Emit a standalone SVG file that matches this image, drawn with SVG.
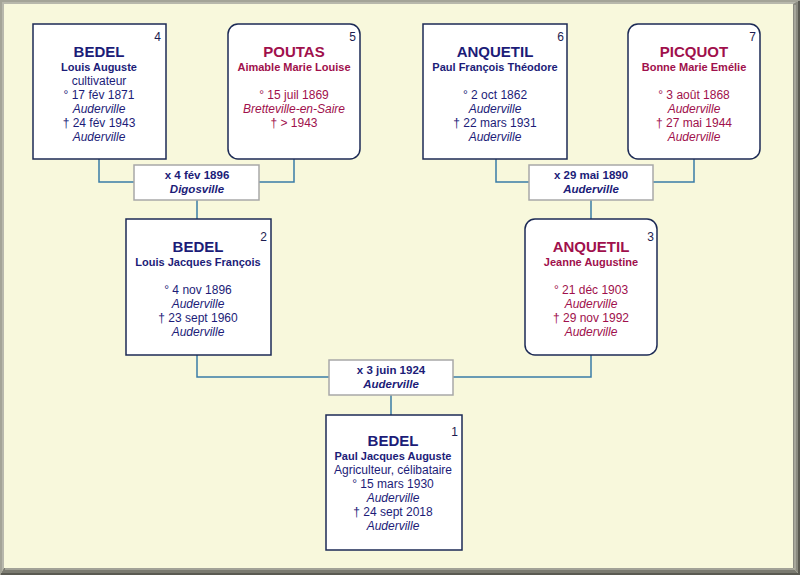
<svg xmlns="http://www.w3.org/2000/svg" width="800" height="575" viewBox="0 0 800 575">
<style>
text{font-family:"Liberation Sans",Arial,sans-serif;text-anchor:middle}
.box{fill:#ffffff;stroke:#1c2a55;stroke-width:1.5}
.mbox{fill:#ffffff;stroke:#a8a8a8;stroke-width:1.5}
.m{fill:#1c1c78}
.f{fill:#a0104c}
.nm{font-size:15px;font-weight:bold}
.gn{font-size:11px;font-weight:bold}
.t{font-size:12px}
.i{font-size:12px;font-style:italic}
.no{font-size:12px;fill:#1c1c50;text-anchor:end}
.mt{font-size:11.5px;font-weight:bold;fill:#1c1c78}
.mi{font-size:11.5px;font-weight:bold;font-style:italic;fill:#1c1c78}
.c{fill:none;stroke:#3a7ca6;stroke-width:1.5}
</style>
<rect x="0" y="0" width="800" height="575" fill="#f8f8dc"/>
<g id="frame">
<polygon points="0,0 800,0 796,4 4,4 4,568 0,575" fill="#b8b8ac"/>
<polygon points="800,0 800,575 793,568 793,4" fill="#8a8a80"/>
<polygon points="0,575 800,575 793,568 4,568" fill="#7a7a70"/>
<polyline points="1,574 1,1 799,1" fill="none" stroke="#a4a498" stroke-width="2"/>
<polyline points="795,5 795,569 5,569" fill="none" stroke="#b0b0a4" stroke-width="1.5"/>
<polyline points="799,1 799,574 1,574" fill="none" stroke="#5a5a52" stroke-width="2"/>
</g>
<g id="connectors">
<polyline class="c" points="99,159 99,182 134,182"/>
<polyline class="c" points="294,159 294,182 259,182"/>
<line class="c" x1="197" y1="200" x2="197" y2="219"/>
<polyline class="c" points="496,159 496,182 529,182"/>
<polyline class="c" points="694,159 694,182 653,182"/>
<line class="c" x1="591" y1="200" x2="591" y2="219"/>
<polyline class="c" points="197,355 197,377 329,377"/>
<polyline class="c" points="591,355 591,377 453,377"/>
<line class="c" x1="391" y1="395" x2="391" y2="415"/>
</g>
<g id="node4">
<rect class="box" x="33" y="24" width="133" height="135"/>
<text class="no" x="161" y="41">4</text>
<text class="m nm" x="99" y="57">BEDEL</text>
<text class="m gn" x="99" y="71">Louis Auguste</text>
<text class="m t" x="99" y="85">cultivateur</text>
<text class="m t" x="99" y="99">° 17 fév 1871</text>
<text class="m i" x="99" y="113">Auderville</text>
<text class="m t" x="99" y="127">† 24 fév 1943</text>
<text class="m i" x="99" y="141">Auderville</text>
</g>
<g id="node5">
<rect class="box" x="228" y="24" width="132" height="135" rx="10"/>
<text class="no" x="356" y="41">5</text>
<text class="f nm" x="294" y="57">POUTAS</text>
<text class="f gn" x="294" y="71">Aimable Marie Louise</text>
<text class="f t" x="294" y="99">° 15 juil 1869</text>
<text class="f i" x="294" y="113">Bretteville-en-Saire</text>
<text class="f t" x="294" y="127">† &gt; 1943</text>
</g>
<g id="node6">
<rect class="box" x="423" y="24" width="144" height="135"/>
<text class="no" x="564" y="41">6</text>
<text class="m nm" x="495" y="57">ANQUETIL</text>
<text class="m gn" x="495" y="71">Paul François Théodore</text>
<text class="m t" x="495" y="99">° 2 oct 1862</text>
<text class="m i" x="495" y="113">Auderville</text>
<text class="m t" x="495" y="127">† 22 mars 1931</text>
<text class="m i" x="495" y="141">Auderville</text>
</g>
<g id="node7">
<rect class="box" x="628" y="24" width="132" height="135" rx="10"/>
<text class="no" x="756" y="41">7</text>
<text class="f nm" x="694" y="57">PICQUOT</text>
<text class="f gn" x="694" y="71">Bonne Marie Emélie</text>
<text class="f t" x="694" y="99">° 3 août 1868</text>
<text class="f i" x="694" y="113">Auderville</text>
<text class="f t" x="694" y="127">† 27 mai 1944</text>
<text class="f i" x="694" y="141">Auderville</text>
</g>
<g id="marriage1">
<rect class="mbox" x="134" y="165" width="125" height="35"/>
<text class="mt" x="197" y="179">x 4 fév 1896</text>
<text class="mi" x="197" y="193">Digosville</text>
</g>
<g id="marriage2">
<rect class="mbox" x="529" y="165" width="124" height="35"/>
<text class="mt" x="591" y="179">x 29 mai 1890</text>
<text class="mi" x="591" y="193">Auderville</text>
</g>
<g id="node2">
<rect class="box" x="126" y="219" width="145" height="136"/>
<text class="no" x="267" y="241">2</text>
<text class="m nm" x="198" y="252">BEDEL</text>
<text class="m gn" x="198" y="266">Louis Jacques François</text>
<text class="m t" x="198" y="294">° 4 nov 1896</text>
<text class="m i" x="198" y="308">Auderville</text>
<text class="m t" x="198" y="322">† 23 sept 1960</text>
<text class="m i" x="198" y="336">Auderville</text>
</g>
<g id="node3">
<rect class="box" x="525" y="219" width="132" height="136" rx="10"/>
<text class="no" x="654" y="241">3</text>
<text class="f nm" x="591" y="252">ANQUETIL</text>
<text class="f gn" x="591" y="266">Jeanne Augustine</text>
<text class="f t" x="591" y="294">° 21 déc 1903</text>
<text class="f i" x="591" y="308">Auderville</text>
<text class="f t" x="591" y="322">† 29 nov 1992</text>
<text class="f i" x="591" y="336">Auderville</text>
</g>
<g id="marriage3">
<rect class="mbox" x="329" y="360" width="124" height="35"/>
<text class="mt" x="391" y="374">x 3 juin 1924</text>
<text class="mi" x="391" y="388">Auderville</text>
</g>
<g id="node1">
<rect class="box" x="326" y="415" width="136" height="135"/>
<text class="no" x="458" y="436">1</text>
<text class="m nm" x="393" y="446">BEDEL</text>
<text class="m gn" x="393" y="460">Paul Jacques Auguste</text>
<text class="m t" x="393" y="474">Agriculteur, célibataire</text>
<text class="m t" x="393" y="488">° 15 mars 1930</text>
<text class="m i" x="393" y="502">Auderville</text>
<text class="m t" x="393" y="516">† 24 sept 2018</text>
<text class="m i" x="393" y="530">Auderville</text>
</g>
</svg>
